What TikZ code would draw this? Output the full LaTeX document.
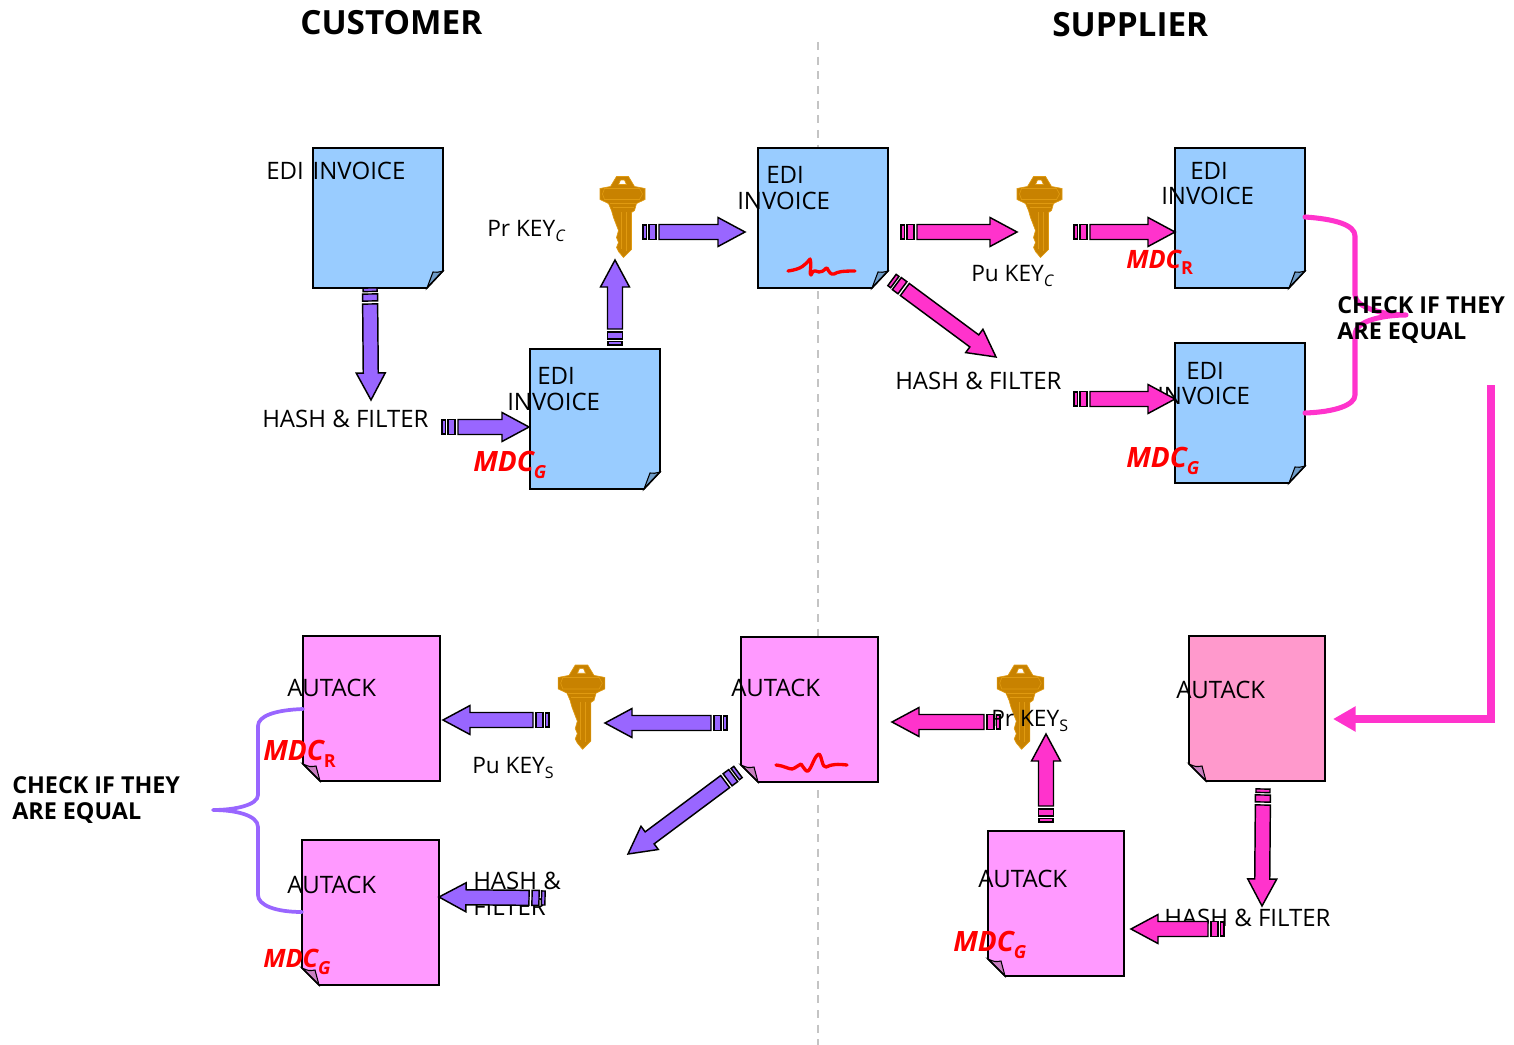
\documentclass[tikz,border=0pt]{standalone}
\usepackage{fontspec}
\setmainfont{Open Sans}
\usetikzlibrary{calc,arrows.meta}
\definecolor{docblue}{HTML}{99CCFF}
\definecolor{foldblue}{HTML}{6F9CC8}
\definecolor{docpink}{HTML}{FF99FF}
\definecolor{docrose}{HTML}{FF99CC}
\definecolor{foldpink}{HTML}{C87FC0}
\definecolor{arrowpurple}{HTML}{9966FF}
\definecolor{arrowpink}{HTML}{FF33CC}
\definecolor{keyfill}{HTML}{C88200}
\definecolor{keyline}{HTML}{E09A10}
\definecolor{divider}{HTML}{C4C4C4}
\tikzset{
  x=.75pt,y=-.75pt,
  lbl/.style={anchor=west,inner sep=0pt,font=\fontsize{18}{19.5}\selectfont,text=black},
  keylbl/.style={anchor=west,inner sep=0pt,font=\fontsize{17}{19.5}\selectfont,text=black},
  headlbl/.style={anchor=west,inner sep=0pt,font=\fontsize{25}{28}\selectfont\bfseries,text=black},
  checklbl/.style={anchor=west,inner sep=0pt,align=left,font=\fontsize{17.5}{19.6}\selectfont\bfseries,text=black},
  mdclbl/.style={anchor=west,inner sep=0pt,font=\fontsize{#1}{22}\selectfont\bfseries\itshape,text=red},
  mdclbl/.default=19,
  docedge/.style={draw=black,line width=1.15pt,line join=miter},
  foldedge/.style={draw=black,line width=.8pt,line join=miter},
  blockedge/.style={draw=black,line width=1.1pt,line join=miter},
  brace/.style={line width=#1,line cap=round,line join=round},
  sigline/.style={draw=red,line width=2.5pt,line cap=round,line join=round},
}
\newcommand{\docbr}[6]{% name x1 y1 x2 y2 fill : fold bottom right
  \fill[#6] (#2,#3) -- (#4,#3) -- (#4,#5-17) -- (#4-16,#5) -- (#2,#5) -- cycle;
  \draw[foldedge,fill=foldblue] (#4-16,#5) -- (#4-10,#5-16) .. controls (#4-6,#5-15.5) .. (#4,#5-17) -- cycle;
  \draw[docedge] (#2,#3) -- (#4,#3) -- (#4,#5-17) -- (#4-16,#5) -- (#2,#5) -- cycle;
  \coordinate (#1) at ({(#2+#4)/2},{(#3+#5)/2});
}
\newcommand{\docbl}[6]{% name x1 y1 x2 y2 fill : fold bottom left
  \fill[#6] (#2,#3) -- (#4,#3) -- (#4,#5) -- (#2+17,#5) -- (#2,#5-17) -- cycle;
  \draw[foldedge,fill=foldpink] (#2+17,#5) -- (#2+13,#5-15) .. controls (#2+7,#5-14) .. (#2,#5-17) -- cycle;
  \draw[docedge] (#2,#3) -- (#4,#3) -- (#4,#5) -- (#2+17,#5) -- (#2,#5-17) -- cycle;
  \coordinate (#1) at ({(#2+#4)/2},{(#3+#5)/2});
}
\newcommand{\blockarrow}[5]{% fill x1 y1 x2 y2
  \pgfmathsetmacro\Blen{veclen(#4-#2,#5-#3)}
  \pgfmathsetmacro\Bang{atan2(-(#5-#3),#4-#2)}
  \begin{scope}[shift={(#2,#3)},rotate=\Bang,x=.75pt,y=.75pt]
    \draw[blockedge,fill=#1] (0,-7) rectangle (3.5,7);
    \draw[blockedge,fill=#1] (6,-7.5) rectangle (13,7.5);
    \draw[blockedge,fill=#1] (16,-7.5) -- ({\Blen-27},-7.5) -- ({\Blen-27},-14.5) -- (\Blen,0)
      -- ({\Blen-27},14.5) -- ({\Blen-27},7.5) -- (16,7.5) -- cycle;
  \end{scope}
}
\newcommand{\keyshape}[3]{% x y scale
  \begin{scope}[shift={(#1,#2)},scale=#3]
    \fill[keyfill,draw=keyline,line width=.5pt,even odd rule]
      (-6,0) -- (6,0) -- (12,10) -- (22.5,12) -- (22.5,23) -- (14,27) -- (12,34) -- (9,36) -- (9,73) -- (1,81)
      -- (-4,75) -- (-6,71) -- (-4,66) -- (-6,61) -- (-4,54) -- (-9,41) -- (-11,34) -- (-14,27) -- (-22.5,23)
      -- (-22.5,12) -- (-12,10) -- cycle
      (-4,8) -- (4,8) -- (2,3.5) -- (-2,3.5) -- cycle;
    \draw[keyline,line width=.5pt] (-18,12) -- (17,12) -- (20,17.5) -- (17,23) -- (-18,23) -- (-20,17.5) -- cycle;
    \draw[keyline,line width=.5pt] (-13,27) -- (13,27) (-10,31) -- (11,31);
    \draw[keyline,line width=.6pt] (-1,36) -- (-1,72) (4,36) -- (4,74);
  \end{scope}
}
\newcommand{\subs}[1]{\raisebox{-.4ex}{\fontsize{12}{12}\selectfont #1}}
\newcommand{\subi}[1]{\raisebox{-.4ex}{\fontsize{12}{12}\selectfont\itshape #1}}
\newcommand{\mdcsub}[1]{\raisebox{-.45ex}{\fontsize{13.5}{13}\selectfont #1}}
\newcommand{\mdcup}[1]{\raisebox{-.45ex}{\fontsize{13.5}{13}\selectfont\upshape #1}}
\begin{document}
\begin{tikzpicture}
\useasboundingbox (0,0) rectangle (1514,1045);
% divider
\coordinate (divtop) at (818,42);
\coordinate (divbot) at (818,1045);
\draw[divider,line width=1.5pt,dash pattern=on 6pt off 5pt] (divtop) -- (divbot);
% titles
\node[headlbl] (tcust) at (300,23) {CUSTOMER};
\node[headlbl] (tsupp) at (1052,25) {SUPPLIER};
% documents
\docbr{d1}{313}{148}{443}{288}{docblue}
\docbr{d2}{530}{349}{660}{489}{docblue}
\docbr{d3}{758}{148}{888}{288}{docblue}
\docbr{d4}{1175}{148}{1305}{288}{docblue}
\docbr{d5}{1175}{343}{1305}{483}{docblue}
\docbl{a1}{1189}{636}{1325}{781}{docrose}
\docbl{a2}{741}{637}{878}{782}{docpink}
\docbl{a3}{303}{636}{440}{781}{docpink}
\docbl{a4}{302}{840}{439}{985}{docpink}
\docbl{a5}{988}{831}{1124}{976}{docpink}
% keys
\keyshape{622.5}{176.5}{1}
\keyshape{1039.5}{176.5}{1}
\keyshape{581.5}{665}{1.04}
\keyshape{1020.5}{665}{1.04}
% signatures
\draw[sigline] (788,271) .. controls (802,269) and (805,265) .. (810,259) .. controls (812,264) and (809,276) .. (811,275) .. controls (814,268) and (816,272) .. (819,272) .. controls (824,272) and (825,268) .. (827,268) .. controls (829,272) and (831,275) .. (834,274) .. controls (838,272) and (840,271) .. (855,271);
\draw[sigline] (776,765) .. controls (785,766) and (788,769) .. (792,769) .. controls (796,768) and (798,765) .. (801,764) .. controls (804,768) and (806,772) .. (808,771) .. controls (812,768) and (814,756) .. (819,754) .. controls (822,756) and (822,768) .. (826,767) .. controls (832,764) and (838,764) .. (847,765);
% labels under arrows
\node[lbl] (t-d1) at (266,171) {EDI\hspace{2pt} INVOICE};
\node[lbl] (t-d2a) at (537,376) {EDI};
\node[lbl] (t-d2b) at (507,402) {INVOICE};
\node[lbl] (t-d3a) at (766,175) {EDI};
\node[lbl] (t-d3b) at (737,201) {INVOICE};
\node[lbl] (t-d4a) at (1190,171) {EDI};
\node[lbl] (t-d4b) at (1161,196) {INVOICE};
\node[lbl] (t-d5a) at (1186,371) {EDI};
\node[lbl] (t-d5b) at (1157,396) {INVOICE};
\node[lbl] (t-a1) at (1176,690) {AUTACK};
\node[lbl] (t-a2) at (731,688) {AUTACK};
\node[lbl] (t-a3) at (287,688) {AUTACK};
\node[lbl] (t-a4) at (287,885) {AUTACK};
\node[lbl] (t-a5) at (978,879) {AUTACK};
\node[lbl] (hf1) at (262,419) {HASH \& FILTER};
\node[lbl] (hf2) at (895,381) {HASH \& FILTER};
\node[lbl] (hf3) at (1164,918) {HASH \& FILTER};
\node[lbl,align=left] (hf4) at (473,894) {HASH \&\\FILTER};
\node[keylbl] (prc) at (487,231) {Pr KEY\subi{C}};
\node[keylbl] (puc) at (971,276) {Pu KEY\subi{C}};
\node[keylbl] (pus) at (472,768) {Pu KEY\subs{S}};
% block arrows
\blockarrow{arrowpurple}{370}{288}{371}{400}
\blockarrow{arrowpurple}{442}{427}{529}{427}
\blockarrow{arrowpurple}{615}{345}{615}{260}
\blockarrow{arrowpurple}{643}{232}{745}{232}
\blockarrow{arrowpink}{901}{232}{1017}{232}
\blockarrow{arrowpink}{1074}{232}{1175}{232}
\blockarrow{arrowpink}{892}{280}{996}{357}
\blockarrow{arrowpink}{1074}{399}{1175}{399}
\blockarrow{arrowpink}{1263}{789}{1262}{906}
\blockarrow{arrowpink}{1224}{929}{1131}{929}
\blockarrow{arrowpink}{1046}{822}{1046}{734}
\blockarrow{arrowpink}{1000}{722}{892}{722}
\blockarrow{arrowpurple}{727}{723}{605}{723}
\blockarrow{arrowpurple}{549}{720}{443}{720}
\blockarrow{arrowpurple}{738}{772}{628}{854}
\blockarrow{arrowpurple}{545}{898}{439}{897}
% label over arrows
\node[keylbl] (prs) at (991,721) {Pr KEY\subs{S}};
% braces
\coordinate (b1a) at (1305,217);
\coordinate (b1t) at (1406,315);
\coordinate (b1b) at (1305,413);
\draw[arrowpink,brace=3.8pt] (b1a) .. controls (1335,219) and (1355,225) .. (1355,236) -- (1355,295) .. controls (1355,308) and (1385,315) .. (b1t) .. controls (1385,315) and (1355,320) .. (1355,335) -- (1355,395) .. controls (1355,405) and (1335,412) .. (b1b);
\coordinate (b2a) at (303,709);
\coordinate (b2t) at (213,810);
\coordinate (b2b) at (302,912);
\draw[arrowpurple,brace=2.8pt] (b2a) .. controls (275,710) and (258,716) .. (258,726) -- (258,795) .. controls (258,805) and (235,810) .. (b2t) .. controls (235,810) and (258,815) .. (258,827) -- (258,895) .. controls (258,905) and (275,912) .. (b2b);
% long connector
\coordinate (lg1) at (1491,385);
\coordinate (lg2) at (1491,719);
\coordinate (lg3) at (1333,719);
\draw[arrowpink,line width=5.4pt,-{Triangle[length=17pt,width=18pt]}] (lg1) -- (lg2) -- (lg3);
% check labels
\node[checklbl] (chk1) at (1337,320) {CHECK IF THEY\\ARE EQUAL};
\node[checklbl] (chk2) at (12,800) {CHECK IF THEY\\ARE EQUAL};
% MDC labels
\node[mdclbl=21] (m1) at (473,465) {MDC\mdcsub{G}};
\node[mdclbl] (m2) at (1126,262) {MDC\mdcup{R}};
\node[mdclbl=21] (m3) at (1126,461) {MDC\mdcsub{G}};
\node[mdclbl=21] (m4) at (263,754) {MDC\mdcup{R}};
\node[mdclbl] (m5) at (263,962) {MDC\mdcsub{G}};
\node[mdclbl=21] (m6) at (953,945) {MDC\mdcsub{G}};
\end{tikzpicture}
\end{document}
